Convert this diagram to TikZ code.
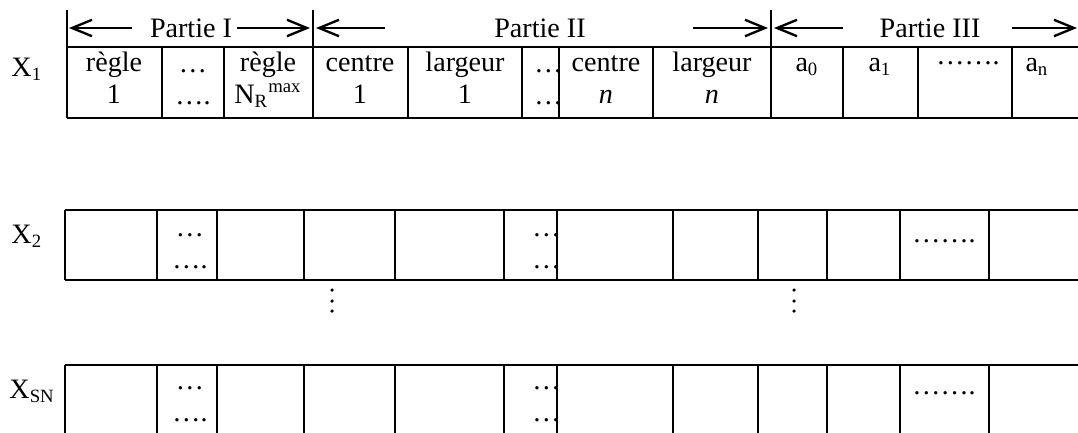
\documentclass[tikz,border=0pt,12pt]{standalone}
\usepackage{fontspec}
\setmainfont{Liberation Serif}
\usetikzlibrary{arrows.meta,positioning,calc}

\tikzset{
  gridline/.style={line width=1pt},
  partarrow/.style={line width=1pt,-{Straight Barb[length=8.5pt,width=7pt,line width=1pt]}},
  txt/.style={inner sep=0pt,anchor=base},
}

\begin{document}
\begin{tikzpicture}[x=0.15mm,y=-0.15mm]
    \clip (0,0) rectangle (1078,432);

    % part headings with arrows
    \node[inner sep=0pt] (p1) at (191,28) {Partie I};
    \node[inner sep=0pt] (p2) at (540,28) {Partie II};
    \node[inner sep=0pt] (p3) at (930,28) {Partie III};
    \foreach \s/\e [count=\i] in {132/69,237/310,385/316,693/768,843/774,1012/1077} {
        \coordinate (as\i) at (\s,28);
        \coordinate (ae\i) at (\e,28);
        \draw[partarrow] (as\i) -- (ae\i);
    }
    \foreach \x in {67,313,771}
        \draw[gridline] (\x,10) -- (\x,47);

    % row labels
    \node[txt,anchor=base west] (x1) at (11,76) {X\textsubscript{1}};
    \node[txt,anchor=base west] (x2) at (11,243) {X\textsubscript{2}};
    \node[txt,anchor=base west] (xsn) at (9,398) {X\textsubscript{SN}};

    % first row: two-line cells
    \foreach \cx/\ta/\tb [count=\i] in {114/règle/1, 268/règle/{N\textsubscript{R}\textsuperscript{max}},
        360/centre/1, 465/largeur/1, 606/centre/\textit{n}, 712/largeur/\textit{n}} {
        \node[txt] (ha\i) at (\cx,71) {\ta};
        \node[txt] (hb\i) at (\cx,103) {\tb};
    }
    \node[txt] (c0) at (807,71) {a\textsubscript{0}};
    \node[txt] (c1) at (880,71) {a\textsubscript{1}};
    \node[txt] (cn) at (1037,71) {a\textsubscript{n}};
    \node[txt] (cd) at (968,64) {…….};

    % dots in the narrow cells
    \foreach \r/\ya/\yb/\xa/\xb in {1/72/104/193/559, 2/236/268/190/557, 3/389/421/190/557} {
        \node[txt] (da\r) at (\xa,\ya) {…};
        \node[txt] (db\r) at (\xa,\yb) {….};
        \node[txt,anchor=base west] (ea\r) at (\xb-25,\ya) {…};
        \node[txt,anchor=base west] (eb\r) at (\xb-25,\yb) {…};
    }
    \node[txt] (cd2) at (944,242) {…….};
    \node[txt] (cd3) at (944,394) {…….};

    % the table rows
    \draw[gridline] (67,47) -- (1090,47) (67,118) -- (1090,118);
    \foreach \x in {67,162,224,313,408,522,559,653,771,843,918,1012}
        \draw[gridline] (\x,47) -- (\x,118);
    \foreach \top/\bot in {210/280,365/436} {
        \draw[gridline] (65,\top) -- (1090,\top) (65,\bot) -- (1090,\bot);
        \foreach \x in {65,157,217,304,395,504,557,673,758,827,900,989}
            \draw[gridline] (\x,\top) -- (\x,\bot);
    }

    % vertical ellipses between rows
    \foreach \x in {332,794}
        \foreach \y in {290,301,311}
            \fill (\x,\y) circle[radius=0.75pt];
\end{tikzpicture}
\end{document}
